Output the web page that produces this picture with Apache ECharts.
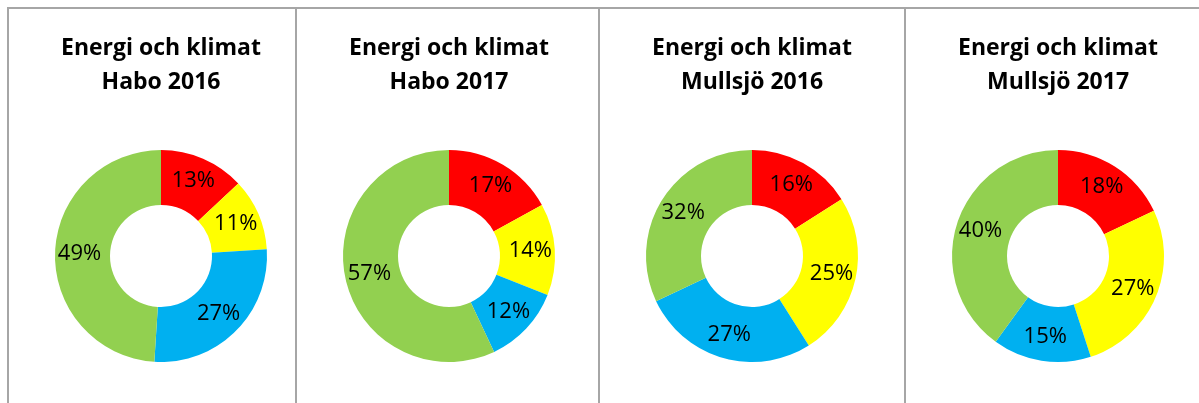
<!DOCTYPE html>
<html>
<head>
<meta charset="utf-8">
<script src="https://cdn.jsdelivr.net/npm/echarts@6/dist/echarts.min.js"></script>
<style>
  html, body { margin: 0; padding: 0; background: #fff; }
  #chart { width: 1199px; height: 403px; }
</style>
</head>
<body>
<div id="chart"></div>
<script>
// chart data
var titles = ["Energi och klimat\nHabo 2016", "Energi och klimat\nHabo 2017",
              "Energi och klimat\nMullsjö 2016", "Energi och klimat\nMullsjö 2017"];
var categories = ["Röd", "Gul", "Blå", "Grön"];
var habo2016 = [13, 11, 27, 49];
var habo2017 = [17, 14, 12, 57];
var mullsjo2016 = [16, 25, 27, 32];
var mullsjo2017 = [18, 27, 15, 40];
var colors = ["#FF0000", "#FFFF00", "#00B0F0", "#92D050"];

var allValues = [habo2016, habo2017, mullsjo2016, mullsjo2017];
var centersX = [161, 449, 752, 1058];
var centerY = 256;

var chartDom = document.getElementById("chart");
var myChart = echarts.init(chartDom);

var titleList = [];
var seriesList = [];
allValues.forEach(function (vals, i) {
  titleList.push({
    text: titles[i],
    left: centersX[i],
    top: 31,
    padding: 0,
    textAlign: "center",
    textStyle: {
      fontFamily: "Open Sans",
      fontWeight: "bold",
      fontSize: 23,
      lineHeight: 34,
      color: "#000"
    }
  });
  seriesList.push({
    type: "pie",
    center: [centersX[i], centerY],
    radius: [51, 106],
    startAngle: 90,
    clockwise: true,
    silent: true,
    animation: false,
    label: {
      show: true,
      position: "inside",
      formatter: "{c}%",
      fontFamily: "Open Sans",
      fontSize: 22,
      color: "#000"
    },
    labelLine: { show: false },
    itemStyle: { borderWidth: 0 },
    data: vals.map(function (v, j) {
      return { name: categories[j], value: v, itemStyle: { color: colors[j] } };
    })
  });
});

// panel frame lines
var lineStyle = { stroke: "#A6A6A6", lineWidth: 2 };
var frame = [
  { type: "line", shape: { x1: 7, y1: 8, x2: 1199, y2: 8 }, style: lineStyle },
  { type: "line", shape: { x1: 8, y1: 8, x2: 8, y2: 403 }, style: lineStyle },
  { type: "line", shape: { x1: 296, y1: 8, x2: 296, y2: 403 }, style: lineStyle },
  { type: "line", shape: { x1: 599, y1: 8, x2: 599, y2: 403 }, style: lineStyle },
  { type: "line", shape: { x1: 905, y1: 8, x2: 905, y2: 403 }, style: lineStyle }
];

var option = {
  backgroundColor: "#fff",
  animation: false,
  title: titleList,
  graphic: frame,
  series: seriesList
};
option && myChart.setOption(option);
</script>
</body>
</html>
